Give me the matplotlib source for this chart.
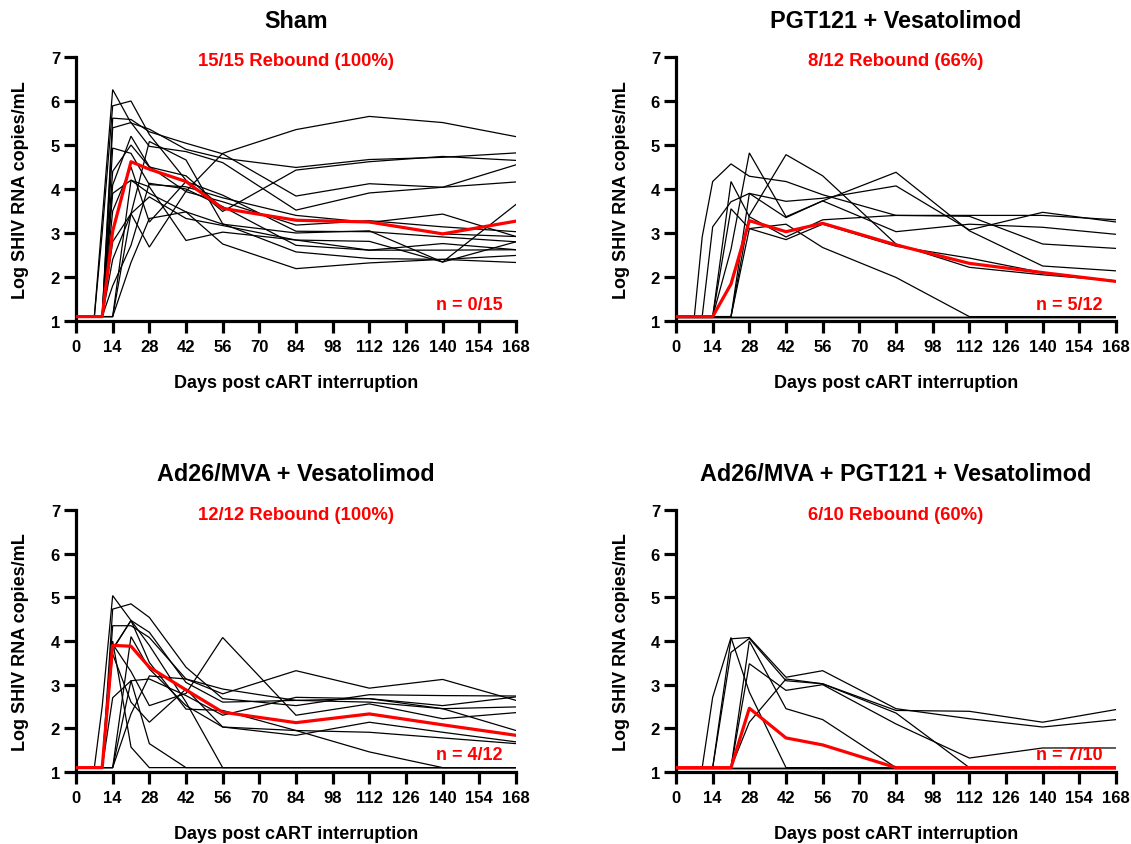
import matplotlib
matplotlib.use("Agg")
import matplotlib.pyplot as plt

plt.rcParams['font.family'] = ['Liberation Sans', 'DejaVu Sans']
plt.rcParams['font.weight'] = 'bold'

# ---------------- data ----------------
days = [0, 7, 10, 14, 21, 28, 42, 56, 84, 112, 140, 168]
x_ticks = [0, 14, 28, 42, 56, 70, 84, 98, 112, 126, 140, 154, 168]
y_ticks = [1, 2, 3, 4, 5, 6, 7]

panel_titles = ["Sham", "PGT121 + Vesatolimod",
                "Ad26/MVA + Vesatolimod", "Ad26/MVA + PGT121 + Vesatolimod"]
rebound_labels = ["15/15 Rebound (100%)", "8/12 Rebound (66%)",
                  "12/12 Rebound (100%)", "6/10 Rebound (60%)"]
n_labels = ["n = 0/15", "n = 5/12", "n = 4/12", "n = 7/10"]

sham = [
    [1.1, 1.1, 3.3, 6.26, 5.50, 5.36, 4.90, 4.70, 4.49, 4.67, 4.72, 4.82],
    [1.1, 1.1, 3.0, 5.89, 6.00, 5.24, 4.20, 3.49, 4.43, 4.62, 4.74, 4.65],
    [1.1, 1.1, 1.1, 5.61, 5.58, 5.30, 5.04, 4.80, 3.84, 4.12, 4.04, 4.55],
    [1.1, 1.1, 1.1, 5.39, 5.51, 4.97, 4.85, 4.60, 3.52, 3.91, 4.04, 4.16],
    [1.1, 1.1, 1.1, 4.93, 4.81, 4.10, 4.05, 3.80, 3.40, 3.24, 3.43, 2.92],
    [1.1, 1.1, 1.1, 4.09, 5.20, 4.51, 3.94, 3.71, 3.18, 3.28, 3.14, 3.03],
    [1.1, 1.1, 1.1, 3.50, 4.50, 3.25, 4.17, 3.86, 3.04, 3.03, 2.91, 2.80],
    [1.1, 1.1, 1.1, 2.80, 3.44, 2.68, 3.95, 4.81, 5.35, 5.65, 5.51, 5.19],
    [1.1, 1.1, 1.1, 2.40, 3.44, 3.82, 3.33, 3.17, 2.84, 2.81, 2.34, 3.65],
    [1.1, 1.1, 1.1, 1.80, 2.72, 4.13, 4.00, 3.60, 2.72, 2.61, 2.76, 2.62],
    [1.1, 1.1, 1.1, 1.10, 3.44, 5.08, 4.66, 3.21, 2.57, 2.42, 2.40, 2.33],
    [1.1, 1.1, 1.1, 1.10, 2.33, 3.33, 3.48, 2.75, 2.19, 2.32, 2.40, 2.49],
    [1.1, 1.1, 1.1, 1.10, 4.20, 4.05, 2.83, 3.02, 2.84, 2.61, 2.61, 2.62],
    [1.1, 1.1, 1.1, 4.40, 5.00, 4.50, 4.30, 3.56, 3.30, 3.24, 2.98, 2.92],
    [1.1, 1.1, 1.1, 3.90, 4.20, 3.90, 3.48, 3.20, 3.00, 3.05, 2.34, 2.80],
]
sham_mean = [1.1, 1.1, 1.1, 3.04, 4.62, 4.45, 4.17, 3.56, 3.29, 3.25, 2.98, 3.27]

pgt_vesa = [
    [1.1, 1.1, 2.91, 4.17, 4.57, 4.29, 4.17, 3.87, 3.40, 3.40, 3.40, 3.30],
    [1.1, 1.1, 1.1, 3.14, 3.71, 3.90, 3.72, 3.79, 4.07, 3.07, 3.47, 3.25],
    [1.1, 1.1, 1.1, 1.1, 2.63, 4.82, 3.37, 3.73, 3.03, 3.20, 3.13, 2.97],
    [1.1, 1.1, 1.1, 1.1, 1.1, 3.40, 4.78, 4.30, 2.75, 2.22, 2.05, 1.91],
    [1.1, 1.1, 1.1, 1.1, 1.1, 3.90, 3.35, 3.73, 4.38, 3.05, 2.25, 2.14],
    [1.1, 1.1, 1.1, 1.1, 4.17, 3.37, 2.91, 3.30, 3.40, 3.38, 2.75, 2.65],
    [1.1, 1.1, 1.1, 1.1, 1.1, 3.10, 3.20, 2.67, 1.99, 1.1, 1.1, 1.1],
    [1.1, 1.1, 1.1, 1.1, 3.55, 3.10, 2.85, 3.20, 2.70, 2.43, 2.10, 1.91],
    [1.1, 1.1, 1.1, 1.1, 1.1, 1.1, 1.1, 1.1, 1.1, 1.1, 1.1, 1.1],
    [1.1, 1.1, 1.1, 1.1, 1.1, 1.1, 1.1, 1.1, 1.1, 1.1, 1.1, 1.1],
    [1.1, 1.1, 1.1, 1.1, 1.1, 1.1, 1.1, 1.1, 1.1, 1.1, 1.1, 1.1],
    [1.1, 1.1, 1.1, 1.1, 1.1, 1.1, 1.1, 1.1, 1.1, 1.1, 1.1, 1.1],
]
pgt_vesa_mean = [1.1, 1.1, 1.1, 1.1, 1.84, 3.28, 3.03, 3.22, 2.73, 2.31, 2.10, 1.90]

ad26_vesa = [
    [1.1, 1.1, 2.5, 5.04, 4.47, 4.20, 3.05, 2.60, 2.64, 2.68, 2.52, 2.72],
    [1.1, 1.1, 1.1, 4.73, 4.85, 4.54, 3.40, 2.68, 2.52, 2.77, 2.75, 2.74],
    [1.1, 1.1, 1.1, 4.35, 4.35, 4.08, 3.13, 2.79, 3.32, 2.92, 3.12, 2.64],
    [1.1, 1.1, 1.1, 3.82, 4.47, 3.51, 2.44, 2.41, 1.95, 1.91, 1.78, 1.65],
    [1.1, 1.1, 1.1, 3.93, 3.30, 2.52, 2.80, 4.08, 2.30, 2.56, 2.22, 2.36],
    [1.1, 1.1, 1.1, 3.70, 2.60, 2.14, 2.90, 2.03, 1.84, 2.14, 1.91, 1.69],
    [1.1, 1.1, 1.1, 1.1, 3.09, 3.13, 2.75, 2.30, 2.71, 2.68, 2.45, 2.49],
    [1.1, 1.1, 1.1, 1.1, 4.10, 3.36, 2.52, 2.03, 1.95, 1.46, 1.1, 1.1],
    [1.1, 1.1, 1.1, 4.00, 1.57, 1.1, 1.1, 1.1, 1.1, 1.1, 1.1, 1.1],
    [1.1, 1.1, 1.1, 2.70, 3.09, 1.65, 1.1, 1.1, 1.1, 1.1, 1.1, 1.1],
    [1.1, 1.1, 1.1, 3.80, 4.47, 3.90, 2.60, 1.1, 1.1, 1.1, 1.1, 1.1],
    [1.1, 1.1, 1.1, 1.1, 2.33, 3.20, 3.13, 2.90, 2.64, 2.60, 2.45, 1.95],
]
ad26_vesa_mean = [1.1, 1.1, 1.1, 3.90, 3.88, 3.40, 2.88, 2.37, 2.13, 2.33, 2.08, 1.84]

ad26_pgt_vesa = [
    [1.1, 1.1, 1.1, 2.71, 4.08, 2.83, 1.1, 1.1, 1.1, 1.1, 1.1, 1.1],
    [1.1, 1.1, 1.1, 1.1, 3.74, 4.06, 3.09, 3.02, 2.41, 2.39, 2.14, 2.43],
    [1.1, 1.1, 1.1, 1.1, 4.05, 4.08, 3.17, 3.32, 2.45, 2.22, 2.03, 2.20],
    [1.1, 1.1, 1.1, 1.1, 1.1, 4.00, 2.45, 2.20, 1.1, 1.1, 1.1, 1.1],
    [1.1, 1.1, 1.1, 1.1, 1.1, 3.48, 2.87, 3.00, 2.10, 1.32, 1.55, 1.55],
    [1.1, 1.1, 1.1, 1.1, 1.1, 2.14, 3.13, 3.02, 2.35, 1.1, 1.1, 1.1],
    [1.1, 1.1, 1.1, 1.1, 1.1, 1.1, 1.1, 1.1, 1.1, 1.1, 1.1, 1.1],
    [1.1, 1.1, 1.1, 1.1, 1.1, 1.1, 1.1, 1.1, 1.1, 1.1, 1.1, 1.1],
    [1.1, 1.1, 1.1, 1.1, 1.1, 1.1, 1.1, 1.1, 1.1, 1.1, 1.1, 1.1],
    [1.1, 1.1, 1.1, 1.1, 1.1, 1.1, 1.1, 1.1, 1.1, 1.1, 1.1, 1.1],
]
ad26_pgt_vesa_mean = [1.1, 1.1, 1.1, 1.1, 1.1, 2.46, 1.78, 1.62, 1.1, 1.1, 1.1, 1.1]

groups = [sham, pgt_vesa, ad26_vesa, ad26_pgt_vesa]
means = [sham_mean, pgt_vesa_mean, ad26_vesa_mean, ad26_pgt_vesa_mean]

# ---------------- layout (pixels) ----------------
W, H = 1131, 845
fig = plt.figure(figsize=(W / 100, H / 100), dpi=100)

# (left, top, right, bottom) of each plotting area in pixels
boxes = [(76, 58, 516, 322), (676, 58, 1116, 322),
         (76, 511, 516, 773), (676, 511, 1116, 773)]

RED = "#FF0000"

for i, (l, t, r, b) in enumerate(boxes):
    ax = fig.add_axes([l / W, 1 - b / H, (r - l) / W, (b - t) / H])
    for s in groups[i]:
        ax.plot(days, s, color="black", lw=0.9, solid_joinstyle="miter", zorder=2)
    ax.plot(days, means[i], color=RED, lw=2.3, zorder=3)

    ax.set_xlim(0, 168)
    ax.set_ylim(1, 7)
    ax.set_xticks(x_ticks)
    ax.set_yticks(y_ticks)
    for side in ("top", "right"):
        ax.spines[side].set_visible(False)
    for side in ("left", "bottom"):
        ax.spines[side].set_linewidth(2.3)
    ax.tick_params(axis="both", direction="out", length=8.5, width=2.3,
                   labelsize=12, pad=3)
    ax.tick_params(axis="x", pad=4.5)
    for lab in ax.get_xticklabels() + ax.get_yticklabels():
        lab.set_fontweight("bold")

    cx = (l + r) / 2
    # title
    fig.text(cx / W, 1 - (t - 36) / H, panel_titles[i], ha="center", va="center",
             fontsize=16.8, fontweight="bold", color="black")
    # rebound annotation
    fig.text(cx / W, 1 - (t + 4) / H, rebound_labels[i], ha="center", va="center",
             fontsize=13.3, fontweight="bold", color=RED)
    # n label
    fig.text((r - 13.5) / W, 1 - (b - 17) / H, n_labels[i], ha="right", va="center",
             fontsize=13, fontweight="bold", color=RED)
    # axis labels
    fig.text(cx / W, 1 - (b + 62) / H, "Days post cART interruption",
             ha="center", va="center", fontsize=13, fontweight="bold")
    fig.text((l - 55) / W, 1 - ((t + b) / 2) / H, "Log SHIV RNA copies/mL",
             ha="center", va="center", rotation=90, fontsize=13, fontweight="bold")

fig.savefig("out.png", dpi=100)
